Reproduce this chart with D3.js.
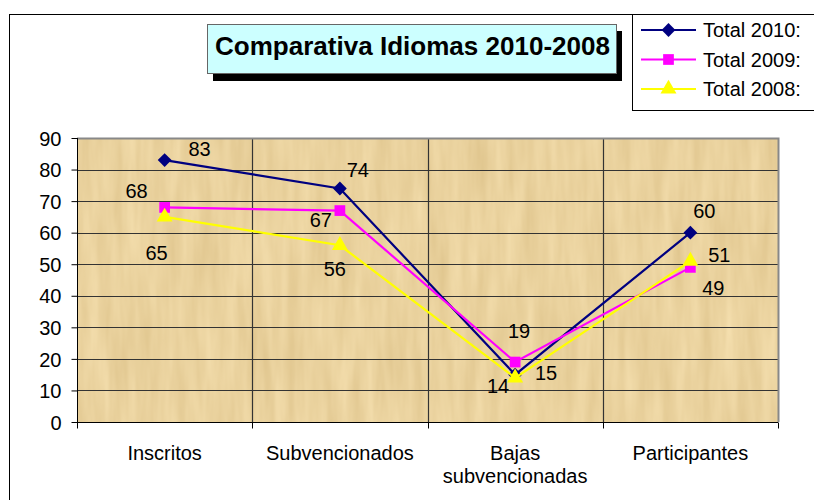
<!DOCTYPE html>
<html><head><meta charset="utf-8">
<script src="https://cdn.jsdelivr.net/npm/d3@7"></script>
<style>html,body{margin:0;padding:0;background:#fff;}svg{display:block;font-family:Arial,"Liberation Sans",sans-serif;}</style>
</head><body>
<svg id="c" width="814" height="500"></svg>
<script>
const categories = ["Inscritos", "Subvencionados", "Bajas\nsubvencionadas", "Participantes"];
const seriesNames = ["Total 2010:", "Total 2009:", "Total 2008:"];
const total2010 = [83, 74, 15, 60];
const total2009 = [68, 67, 19, 49];
const total2008 = [65, 56, 14, 51];
const yTicks = [0, 10, 20, 30, 40, 50, 60, 70, 80, 90];
const title = "Comparativa Idiomas 2010-2008";

// styling (not data)
const colors = ["#000080", "#FF00FF", "#FFFF00"];
const symDiamond = { draw(ctx, size) { const r = Math.sqrt(size / 2); ctx.moveTo(0, -r); ctx.lineTo(r, 0); ctx.lineTo(0, r); ctx.lineTo(-r, 0); ctx.closePath(); } };
const markers = [symDiamond, d3.symbolSquare, d3.symbolTriangle];
const markerSizes = [95, 115, 110];
// label offsets (dx, dy of baseline) per series per point
const labelOffsets = [
  [[35, -4], [18, -11], [31, 5], [14, -15]],
  [[-28, -9], [-19, 16], [4, -24], [23, 28]],
  [[-8, 43], [-5, 31], [-17, 15], [29, 1]]
];

const svg = d3.select("#c");
const defs = svg.append("defs");
const f = defs.append("filter").attr("id", "papyrus").attr("x", 0).attr("y", 0).attr("width", 1).attr("height", 1)
  .attr("color-interpolation-filters", "sRGB");
f.append("feTurbulence").attr("type", "fractalNoise").attr("baseFrequency", "0.08 0.01").attr("numOctaves", 3).attr("seed", 7).attr("result", "n");
f.append("feColorMatrix").attr("in", "n").attr("type", "matrix")
  .attr("values", "0.09 0 0 0 0.873  0.11 0 0 0 0.769  0.14 0 0 0 0.55  0 0 0 0 1");

// outer chart border
svg.append("rect").attr("x", 9.5).attr("y", 14.5).attr("width", 820).attr("height", 520)
  .attr("fill", "#fff").attr("stroke", "#000").attr("stroke-width", 1);

const L = 77, R = 778, T = 138, B = 422;
const x = d3.scaleBand().domain(categories).range([L, R]).paddingInner(0).paddingOuter(0);
const y = d3.scaleLinear().domain([0, 90]).range([B, T]);

// plot background
svg.append("rect").attr("x", L).attr("y", T).attr("width", R - L).attr("height", B - T)
  .attr("filter", "url(#papyrus)");

// horizontal gridlines
svg.append("g").selectAll("line").data(yTicks.filter(d => d > 0 && d < 90)).join("line")
  .attr("x1", L).attr("x2", R).attr("y1", d => Math.round(y(d)) + 0.5).attr("y2", d => Math.round(y(d)) + 0.5)
  .attr("stroke", "#333").attr("stroke-width", 1.2);
// vertical gridlines
svg.append("g").selectAll("line").data(categories.slice(1)).join("line")
  .attr("x1", d => Math.round(x(d)) + 0.5).attr("x2", d => Math.round(x(d)) + 0.5).attr("y1", T).attr("y2", B)
  .attr("stroke", "#333").attr("stroke-width", 1.2);
// plot border (top/right gray)
svg.append("path").attr("d", `M${L},${T + 0.5}H${R + 0.5}V${B}`).attr("fill", "none").attr("stroke", "#888").attr("stroke-width", 2);

// y axis
const yAxis = d3.axisLeft(y).tickValues(yTicks).tickSize(6).tickPadding(10).tickFormat(d3.format("d"));
const gy = svg.append("g").attr("transform", `translate(${L + 0.5},0)`).call(yAxis);
gy.select(".domain").attr("stroke", "#000").attr("d", `M0,${T}V${B}`);
gy.selectAll(".tick line").attr("stroke", "#000");
gy.selectAll(".tick text").attr("font-size", 20).attr("font-family", "Arial, 'Liberation Sans', sans-serif").attr("fill", "#000").attr("dy", "0.36em");

// x axis
const xAxis = d3.axisBottom(x).tickSize(0).tickFormat("");
const gx = svg.append("g").attr("transform", `translate(0,${B + 0.5})`).call(xAxis);
gx.select(".domain").attr("stroke", "#000").attr("d", `M${L},0H${R}`);
gx.selectAll(".bt").data(categories.concat(["__end"])).join("line")
  .attr("x1", (d, i) => i < categories.length ? Math.round(x(d)) + 0.5 : R + 0.5)
  .attr("x2", (d, i) => i < categories.length ? Math.round(x(d)) + 0.5 : R + 0.5)
  .attr("y1", 0).attr("y2", 6).attr("stroke", "#000");
// category labels
const catG = svg.append("g");
categories.forEach(c => {
  const lines = c.split("\n");
  const t = catG.append("text").attr("x", x(c) + x.bandwidth() / 2).attr("y", 460)
    .attr("text-anchor", "middle").attr("font-size", 20).attr("fill", "#000");
  lines.forEach((ln, i) => t.append("tspan").attr("x", x(c) + x.bandwidth() / 2).attr("dy", i === 0 ? 0 : 23).text(ln));
});

// series
const allSeries = [total2010, total2009, total2008];
const cx = c => x(c) + x.bandwidth() / 2;
const line = d3.line().x((d, i) => cx(categories[i])).y(d => y(d));
allSeries.forEach((vals, s) => {
  const g = svg.append("g");
  g.append("path").datum(vals).attr("d", line).attr("fill", "none").attr("stroke", colors[s]).attr("stroke-width", 2.2);
  g.selectAll("path.m").data(vals).join("path").attr("class", "m")
    .attr("transform", (d, i) => `translate(${cx(categories[i])},${y(d)})`)
    .attr("d", d3.symbol().type(markers[s]).size(markerSizes[s]))
    .attr("fill", colors[s]);
});
// data labels
allSeries.forEach((vals, s) => {
  svg.append("g").selectAll("text").data(vals).join("text")
    .attr("x", (d, i) => cx(categories[i]) + labelOffsets[s][i][0])
    .attr("y", (d, i) => y(d) + labelOffsets[s][i][1])
    .attr("text-anchor", "middle").attr("font-size", 20).attr("fill", "#000")
    .text(d => d);
});

// title box with shadow
svg.append("rect").attr("x", 213).attr("y", 31).attr("width", 409).attr("height", 50).attr("fill", "#000");
svg.append("rect").attr("x", 207.5).attr("y", 24.5).attr("width", 409).attr("height", 49)
  .attr("fill", "#CCFFFF").attr("stroke", "#666").attr("stroke-width", 1);
svg.append("text").attr("x", 215).attr("y", 55).attr("font-size", 25).attr("font-weight", "bold")
  .attr("textLength", 395).attr("lengthAdjust", "spacingAndGlyphs").attr("fill", "#000").text(title);

// legend
const lg = svg.append("g");
lg.append("rect").attr("x", 632.5).attr("y", 14.5).attr("width", 200).attr("height", 96)
  .attr("fill", "#fff").attr("stroke", "#000").attr("stroke-width", 1);
seriesNames.forEach((n, s) => {
  const yy = 30 + s * 29.5;
  lg.append("line").attr("x1", 641).attr("x2", 696).attr("y1", yy).attr("y2", yy).attr("stroke", colors[s]).attr("stroke-width", 2.2);
  lg.append("path").attr("transform", `translate(668.5,${yy})`)
    .attr("d", d3.symbol().type(markers[s]).size(markerSizes[s])).attr("fill", colors[s]);
  lg.append("text").attr("x", 703).attr("y", yy + 7).attr("font-size", 20).attr("fill", "#000").text(n);
});
</script>
</body></html>
